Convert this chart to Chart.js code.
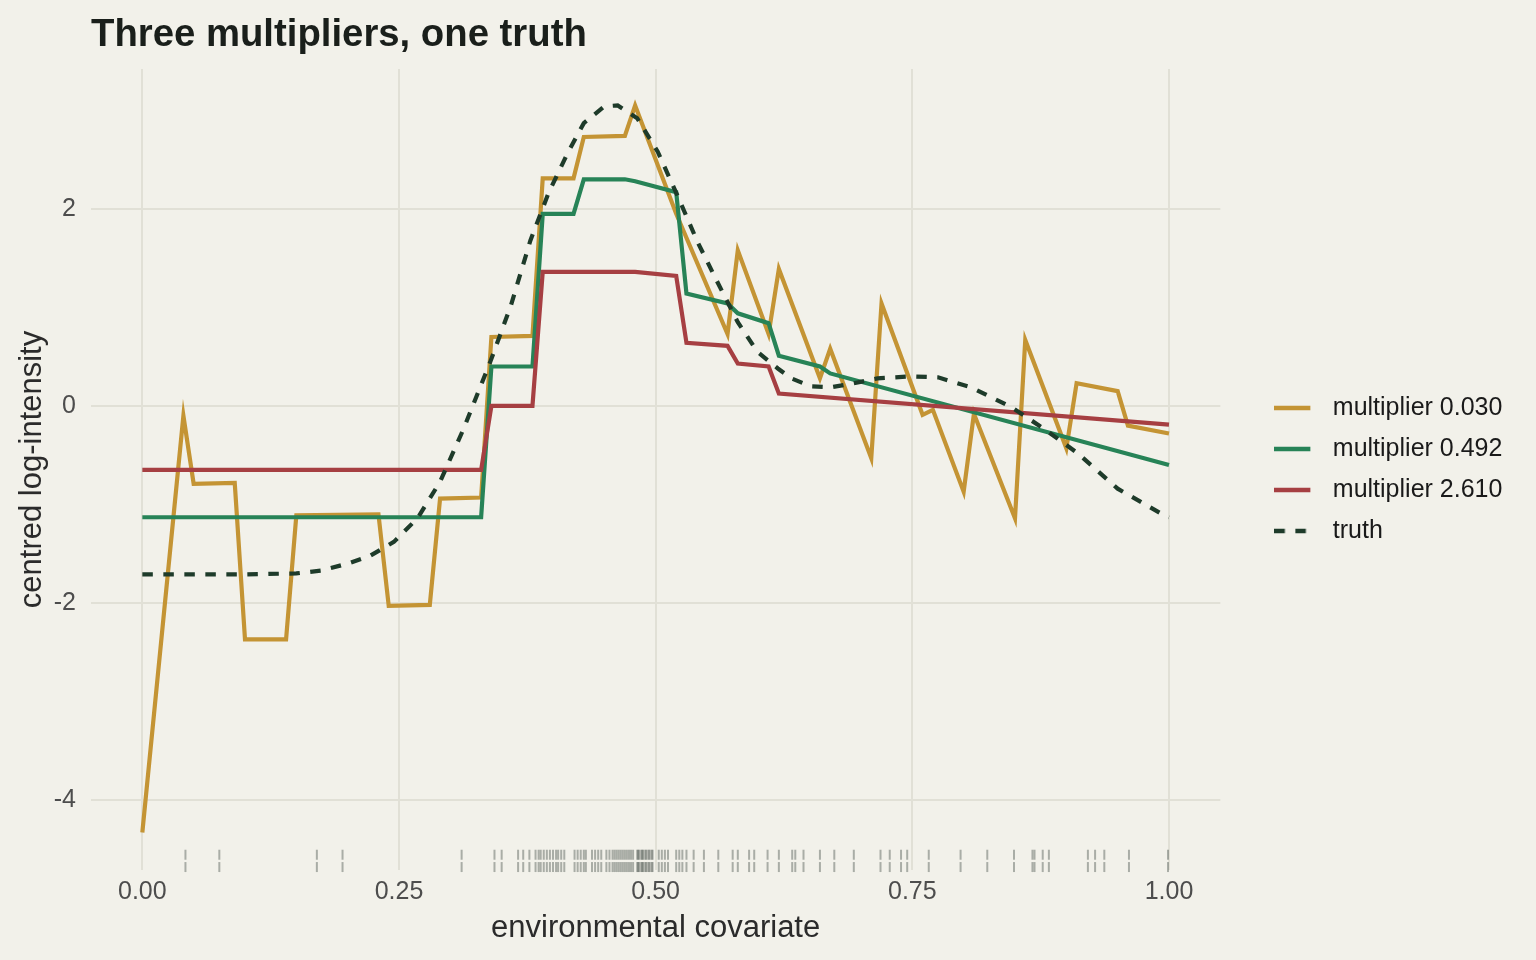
<!DOCTYPE html>
<html>
<head>
<meta charset="utf-8">
<script src="https://cdn.jsdelivr.net/npm/chart.js@4"></script>
<style>
  html, body { margin: 0; padding: 0; background: #F2F1EA; overflow: hidden; }
  #wrap { width: 1536px; height: 960px; }
</style>
</head>
<body>
<div id="wrap"><canvas id="fit"></canvas></div>
<script>
// values
const mult030X = [0, 0.04, 0.05, 0.09, 0.10, 0.14, 0.15, 0.23, 0.24, 0.28, 0.29, 0.33, 0.34, 0.38, 0.39, 0.42, 0.43, 0.47, 0.48, 0.52, 0.57, 0.58, 0.61, 0.62, 0.66, 0.67, 0.71, 0.72, 0.76, 0.77, 0.80, 0.81, 0.85, 0.86, 0.90, 0.91, 0.95, 0.96, 1.00];
const mult030Y = [-4.33, -0.10, -0.79, -0.78, -2.37, -2.37, -1.11, -1.10, -2.03, -2.02, -0.94, -0.93, 0.70, 0.71, 2.31, 2.31, 2.73, 2.74, 3.05, 1.95, 0.73, 1.58, 0.73, 1.39, 0.28, 0.58, -0.53, 1.04, -0.09, -0.04, -0.87, -0.08, -1.14, 0.67, -0.43, 0.23, 0.15, -0.20, -0.28];

const mult492X = [0, 0.33, 0.34, 0.38, 0.39, 0.42, 0.43, 0.47, 0.48, 0.52, 0.53, 0.57, 0.58, 0.61, 0.62, 0.66, 0.67, 1.00];
const mult492Y = [-1.13, -1.13, 0.40, 0.40, 1.95, 1.95, 2.30, 2.30, 2.28, 2.17, 1.14, 1.04, 0.94, 0.84, 0.51, 0.40, 0.33, -0.60];

const mult2610X = [0, 0.33, 0.34, 0.38, 0.39, 0.48, 0.52, 0.53, 0.57, 0.58, 0.61, 0.62, 1.00];
const mult2610Y = [-0.65, -0.65, 0.00, 0.00, 1.36, 1.36, 1.32, 0.64, 0.61, 0.43, 0.40, 0.125, -0.19];

const truthX = [0, 0.05, 0.10, 0.15, 0.175, 0.20, 0.222, 0.245, 0.268, 0.29, 0.313, 0.339, 0.359, 0.378, 0.396, 0.414, 0.43, 0.45, 0.463, 0.482, 0.502, 0.521, 0.541, 0.56, 0.58, 0.599, 0.619, 0.632, 0.651, 0.671, 0.693, 0.716, 0.749, 0.775, 0.807, 0.846, 0.878, 0.911, 0.95, 0.992, 1.0];
const truthY = [-1.71, -1.71, -1.71, -1.70, -1.67, -1.60, -1.52, -1.38, -1.14, -0.77, -0.23, 0.45, 1.02, 1.68, 2.17, 2.56, 2.87, 3.04, 3.05, 2.92, 2.58, 2.14, 1.66, 1.26, 0.85, 0.55, 0.38, 0.28, 0.20, 0.19, 0.23, 0.28, 0.30, 0.29, 0.19, -0.01, -0.23, -0.48, -0.84, -1.09, -1.13];

// observed covariate values (rug)
const rugX = [0.042, 0.075, 0.170, 0.195, 0.311, 0.343, 0.350, 0.366, 0.371, 0.377,
  0.383, 0.386, 0.388, 0.391, 0.394, 0.397, 0.400, 0.403, 0.405, 0.408, 0.411,
  0.421, 0.424, 0.427, 0.430, 0.432, 0.438, 0.441, 0.444, 0.447,
  0.452, 0.455, 0.458, 0.460, 0.462, 0.464, 0.466, 0.468, 0.470, 0.472, 0.474, 0.476, 0.478,
  0.482, 0.483, 0.484, 0.486, 0.487, 0.488, 0.490, 0.491, 0.493, 0.494, 0.496, 0.497,
  0.503, 0.506, 0.509, 0.512, 0.520, 0.523, 0.526, 0.530,
  0.537, 0.547, 0.561, 0.575, 0.580, 0.591, 0.596, 0.609, 0.620, 0.633, 0.636, 0.644,
  0.660, 0.674, 0.693, 0.719, 0.728, 0.739, 0.745, 0.766, 0.797, 0.823, 0.849, 0.867,
  0.869, 0.877, 0.883, 0.921, 0.928, 0.937, 0.961, 0.999];
const rugRows = [-4.555, -4.68];

const seriesNames = ['multiplier 0.030', 'multiplier 0.492', 'multiplier 2.610', 'truth'];
const seriesColors = ['#C49434', '#278357', '#A63F42', '#1E3B2A'];
const xTicks = [0, 0.25, 0.5, 0.75, 1];
const yTicks = [-4, -2, 0, 2];

const zip = (xs, ys) => xs.map((x, i) => ({ x: x, y: ys[i] }));
const FONT = "'Liberation Sans', Arial, Helvetica, sans-serif";
const GRID = '#E1E0D6';

const lineSet = (i, xs, ys, extra) => Object.assign({
  label: seriesNames[i],
  data: zip(xs, ys),
  borderColor: seriesColors[i],
  backgroundColor: seriesColors[i],
  borderWidth: 4.2,
  pointRadius: 0,
  pointHoverRadius: 0,
  tension: 0,
  fill: false,
  order: 4 - i
}, extra || {});

const rugSets = rugRows.map(r => ({
  type: 'scatter',
  label: 'rug',
  data: rugX.map(x => ({ x: x, y: r })),
  pointStyle: 'line',
  rotation: 90,
  pointRadius: 5,
  pointBorderWidth: 2,
  pointBorderColor: 'rgba(30,40,35,0.34)',
  borderColor: 'rgba(30,40,35,0.34)',
  showLine: false,
  clip: false,
  order: 10
}));

// legend key: a 36px stroke on a 46px wide swatch, so the text sits further right
const swatch = (color, dash) => {
  const c = document.createElement('canvas');
  c.width = 46; c.height = 8;
  const g = c.getContext('2d');
  g.strokeStyle = color;
  g.lineWidth = 4.5;
  g.setLineDash(dash);
  g.beginPath(); g.moveTo(0, 4); g.lineTo(36, 4); g.stroke();
  return c;
};

const legendLabels = chart =>
  Chart.defaults.plugins.legend.labels.generateLabels(chart).map(l => {
    const ds = chart.data.datasets[l.datasetIndex];
    return Object.assign(l, { pointStyle: swatch(ds.borderColor, ds.borderDash || []) });
  });

new Chart(document.getElementById('fit'), {
  type: 'line',
  data: {
    datasets: [
      lineSet(0, mult030X, mult030Y),
      lineSet(1, mult492X, mult492Y),
      lineSet(2, mult2610X, mult2610Y),
      lineSet(3, truthX, truthY, { borderDash: [10.5, 10.5] })
    ].concat(rugSets)
  },
  options: {
    responsive: true,
    maintainAspectRatio: false,
    animation: false,
    layout: { padding: { left: 10, top: 12, right: 28, bottom: 9.4 } },
    plugins: {
      title: {
        display: true,
        text: 'Three multipliers, one truth',
        align: 'start',
        fullSize: false,
        color: '#1A1F1B',
        font: { family: FONT, size: 38.3, weight: 'bold' },
        padding: { top: 0, bottom: 11 }
      },
      legend: {
        display: true,
        position: 'right',
        align: 'center',
        fullSize: false,
        labels: {
          usePointStyle: true,
          pointStyleWidth: 46,
          padding: 16,
          color: '#1A1A1A',
          font: { family: FONT, size: 25 },
          generateLabels: legendLabels,
          filter: item => item.datasetIndex < 4,
          sort: (a, b) => a.datasetIndex - b.datasetIndex
        }
      },
      tooltip: { enabled: false }
    },
    scales: {
      x: {
        type: 'linear',
        min: -0.05,
        max: 1.05,
        afterBuildTicks: s => { s.ticks = xTicks.map(v => ({ value: v })); },
        afterFit: s => { s.height = 80.6; },
        ticks: {
          color: '#4D4D4D',
          padding: 7,
          font: { family: FONT, size: 25 },
          callback: v => Number(v).toFixed(2)
        },
        grid: { color: GRID, lineWidth: 2, drawTicks: false },
        border: { display: false },
        title: {
          display: true,
          text: 'environmental covariate',
          color: '#2B2B2B',
          font: { family: FONT, size: 31 },
          padding: { top: 4, bottom: 4 }
        }
      },
      y: {
        type: 'linear',
        min: -4.71,
        max: 3.42,
        afterBuildTicks: s => { s.ticks = yTicks.map(v => ({ value: v })); },
        afterFit: s => { s.width = 81; },
        ticks: {
          color: '#4D4D4D',
          padding: 15,
          font: { family: FONT, size: 25 },
          callback: v => String(v)
        },
        grid: { color: GRID, lineWidth: 2, drawTicks: false },
        border: { display: false },
        title: {
          display: true,
          text: 'centred log-intensity',
          color: '#2B2B2B',
          font: { family: FONT, size: 31 },
          padding: { top: 4, bottom: 4 }
        }
      },
      gap: {
        type: 'linear',
        position: 'right',
        display: true,
        afterFit: s => { s.width = 38; },
        ticks: { display: false },
        grid: { display: false, drawTicks: false },
        border: { display: false }
      }
    }
  }
});
</script>
</body>
</html>
